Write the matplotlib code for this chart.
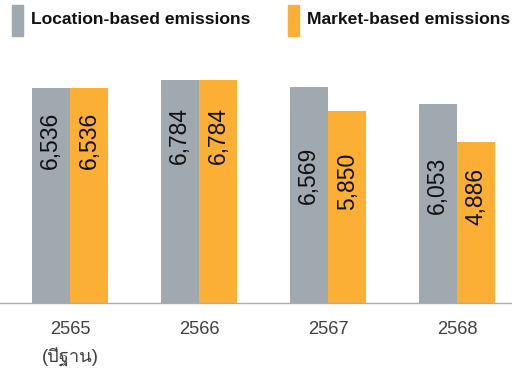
import numpy as np
import matplotlib
matplotlib.use("Agg")
import matplotlib.pyplot as plt
from matplotlib import font_manager, ft2font
from matplotlib.patches import Rectangle
from matplotlib.transforms import blended_transform_factory

# data
years = ["2565", "2566", "2567", "2568"]
base_note = "(ปีฐาน)"
series_names = ["Location-based emissions", "Market-based emissions"]
location_based = [6536, 6784, 6569, 6053]
market_based = [6536, 6784, 5850, 4886]

GRAY = "#A0A8B0"
ORANGE = "#FBAF34"
colors = [GRAY, ORANGE]


def find_thai_font():
    # look for any installed font that has Thai glyphs
    for f in font_manager.fontManager.ttflist:
        try:
            cmap = ft2font.FT2Font(f.fname).get_charmap()
        except Exception:
            continue
        if 0x0E1B in cmap and 0x0E32 in cmap:
            return f.name
    return "DejaVu Sans"


thai = find_thai_font()
fam = ["Liberation Sans", thai, "DejaVu Sans"]

fig = plt.figure(figsize=(5.12, 3.68), dpi=100)
ax = fig.add_axes([0, 65 / 368, 1, 303 / 368])

x = np.arange(len(years))
w = 0.298
ax.bar(x - w / 2, location_based, w, color=GRAY)
ax.bar(x + w / 2, market_based, w, color=ORANGE)

ax.set_xlim(-0.5426, -0.5426 + 512 / 129)
ax.set_ylim(0, 9210)

# value labels (rotated, inside bars); y centres in pixels above the baseline
label_y = [[163, 167, 128, 118], [163, 167, 122, 107]]
tr = blended_transform_factory(ax.transData, ax.transAxes)
for k, vals in enumerate([location_based, market_based]):
    for i, v in enumerate(vals):
        ax.text(x[i] + (k - 0.5) * w, label_y[k][i] / 303, f"{v:,}",
                rotation=90, ha="center", va="center", transform=tr,
                fontsize=16.5, color="#111111", family=fam)

labels = [years[0] + "\n" + base_note] + years[1:]
ax.set_xticks(x)
ax.set_xticklabels(labels, family=fam, fontsize=13.2, color="#404040",
                   va="top", linespacing=1.7)
ax.tick_params(axis="x", length=0, pad=13)
ax.set_yticks([])
for s in ["top", "left", "right"]:
    ax.spines[s].set_visible(False)
ax.spines["bottom"].set_color("#A8AEB4")
ax.spines["bottom"].set_linewidth(1.0)

# legend drawn by hand at the top
leg_x = [12, 288]
for k, name in enumerate(series_names):
    fig.add_artist(Rectangle((leg_x[k] / 512, 1 - 36 / 368), 11 / 512, 31 / 368,
                             color=colors[k], transform=fig.transFigure))
    fig.text((leg_x[k] + 19) / 512, 1 - 20 / 368, name, ha="left", va="center",
             fontsize=12.6, fontweight="bold", color="#111111", family=fam)

fig.savefig("out.png", dpi=100)
